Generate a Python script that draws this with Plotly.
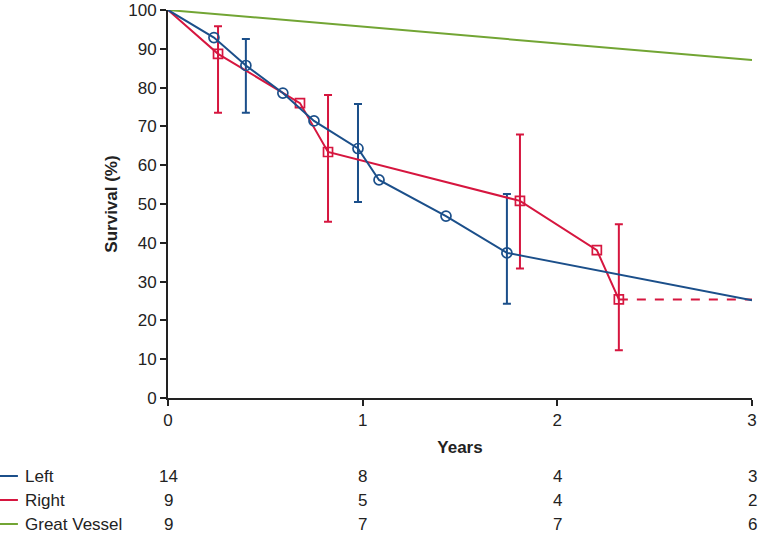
import plotly.graph_objects as go

BLUE = "#1b4f8a"
RED = "#d6163f"
GREEN = "#72a534"
AXIS = "#222222"

# Left: Kaplan-Meier estimates (plotted as joined points)
left_x = [0, 0.236, 0.40, 0.59, 0.75, 0.976, 1.084, 1.428, 1.741, 3.0]
left_y = [100, 92.9, 85.7, 78.6, 71.4, 64.3, 56.2, 46.9, 37.4, 25.2]
left_mark = [False, True, True, True, True, True, True, True, True, False]

left_err_x = [0.40, 0.976, 1.741]
left_err_y = [85.7, 64.3, 37.4]
left_err_hi = [92.5, 75.8, 52.6]
left_err_lo = [73.5, 50.5, 24.3]

# Right
right_x = [0, 0.257, 0.678, 0.822, 1.808, 2.203, 2.316]
right_y = [100, 88.7, 76.0, 63.4, 50.8, 38.1, 25.4]
right_mark = [False, True, True, True, True, True, True]
right_tail_x = [2.316, 3.0]
right_tail_y = [25.4, 25.4]

right_err_x = [0.257, 0.822, 1.808, 2.316]
right_err_y = [88.7, 63.4, 50.8, 25.4]
right_err_hi = [95.8, 78.1, 67.9, 44.8]
right_err_lo = [73.5, 45.4, 33.4, 12.3]

# Great vessel
gv_x = [0, 3.0]
gv_y = [100, 87.1]

# numbers at risk
risk_years = [0, 1, 2, 3]
risk_left = [14, 8, 4, 3]
risk_right = [9, 5, 4, 2]
risk_gv = [9, 7, 7, 6]
risk_labels = ["Left", "Right", "Great Vessel"]
risk_colors = [BLUE, RED, GREEN]

TABLE_FONT = dict(size=17, color="#222", family="Liberation Sans, Arial")

fig = go.Figure()

fig.add_trace(go.Scatter(x=gv_x, y=gv_y, mode="lines",
                         line=dict(color=GREEN, width=2), cliponaxis=False))


def add_series(xs, ys, marks, color, symbol, size):
    fig.add_trace(go.Scatter(x=xs, y=ys, mode="lines",
                             line=dict(color=color, width=2), cliponaxis=False))
    mx = [x for x, m in zip(xs, marks) if m]
    my = [y for y, m in zip(ys, marks) if m]
    fig.add_trace(go.Scatter(x=mx, y=my, mode="markers", cliponaxis=False,
                             marker=dict(symbol=symbol, size=size, color=color,
                                         line=dict(color=color, width=1.7))))


def add_errors(xs, ys, hi, lo, color):
    fig.add_trace(go.Scatter(
        x=xs, y=ys, mode="markers", marker=dict(size=1, opacity=0),
        error_y=dict(type="data", symmetric=False,
                     array=[h - y for h, y in zip(hi, ys)],
                     arrayminus=[y - l for l, y in zip(lo, ys)],
                     color=color, thickness=2, width=4),
        cliponaxis=False))


add_errors(right_err_x, right_err_y, right_err_hi, right_err_lo, RED)
add_errors(left_err_x, left_err_y, left_err_hi, left_err_lo, BLUE)
fig.add_trace(go.Scatter(x=right_tail_x, y=right_tail_y, mode="lines",
                         line=dict(color=RED, width=2, dash="dash"), cliponaxis=False))
add_series(right_x, right_y, right_mark, RED, "square-open", 9)
add_series(left_x, left_y, left_mark, BLUE, "circle-open", 10)

# at-risk table
row_py = [476, 500, 524]
annotations = []
shapes = []
for label, color, vals, py in zip(risk_labels, risk_colors,
                                  [risk_left, risk_right, risk_gv], row_py):
    yp = (398 - py) / 388
    annotations.append(dict(x=-0.2483, y=yp, xref="paper", yref="paper", text=label,
                            showarrow=False, xanchor="left", yanchor="middle",
                            font=TABLE_FONT))
    shapes.append(dict(type="line", xref="paper", yref="paper", x0=-0.2877, x1=-0.257,
                       y0=yp, y1=yp, line=dict(color=color, width=2)))
    for yr, v in zip(risk_years, vals):
        annotations.append(dict(x=yr, y=yp, xref="x", yref="paper", text=str(v),
                                showarrow=False, xanchor="center", yanchor="middle",
                                font=TABLE_FONT))

fig.update_layout(
    width=758, height=538,
    paper_bgcolor="white", plot_bgcolor="white",
    margin=dict(l=168, r=6, t=10, b=140, autoexpand=False),
    showlegend=False,
    font=dict(family="Liberation Sans, Arial", size=15, color="#222"),
    annotations=annotations, shapes=shapes,
    xaxis=dict(range=[0, 3], tickvals=[0, 1, 2, 3], showgrid=False, zeroline=False,
               automargin=False,
               showline=True, linecolor=AXIS, linewidth=2, ticks="outside",
               ticklen=6, tickcolor=AXIS, tickwidth=1.5,
               tickfont=dict(size=17),
               title=dict(text="<b>Years</b>", standoff=12, font=dict(size=17))),
    yaxis=dict(range=[0, 100], dtick=10, showgrid=False, zeroline=False,
               automargin=False,
               showline=True, linecolor=AXIS, linewidth=2, ticks="outside",
               ticklen=6, tickcolor=AXIS, tickwidth=1.5,
               tickfont=dict(size=17),
               title=dict(text="<b>Survival (%)</b>", standoff=6, font=dict(size=17))),
)

fig.write_html("out.html", config={"displayModeBar": False},
               post_script="document.body.style.margin='0';document.body.style.overflow='hidden';")
